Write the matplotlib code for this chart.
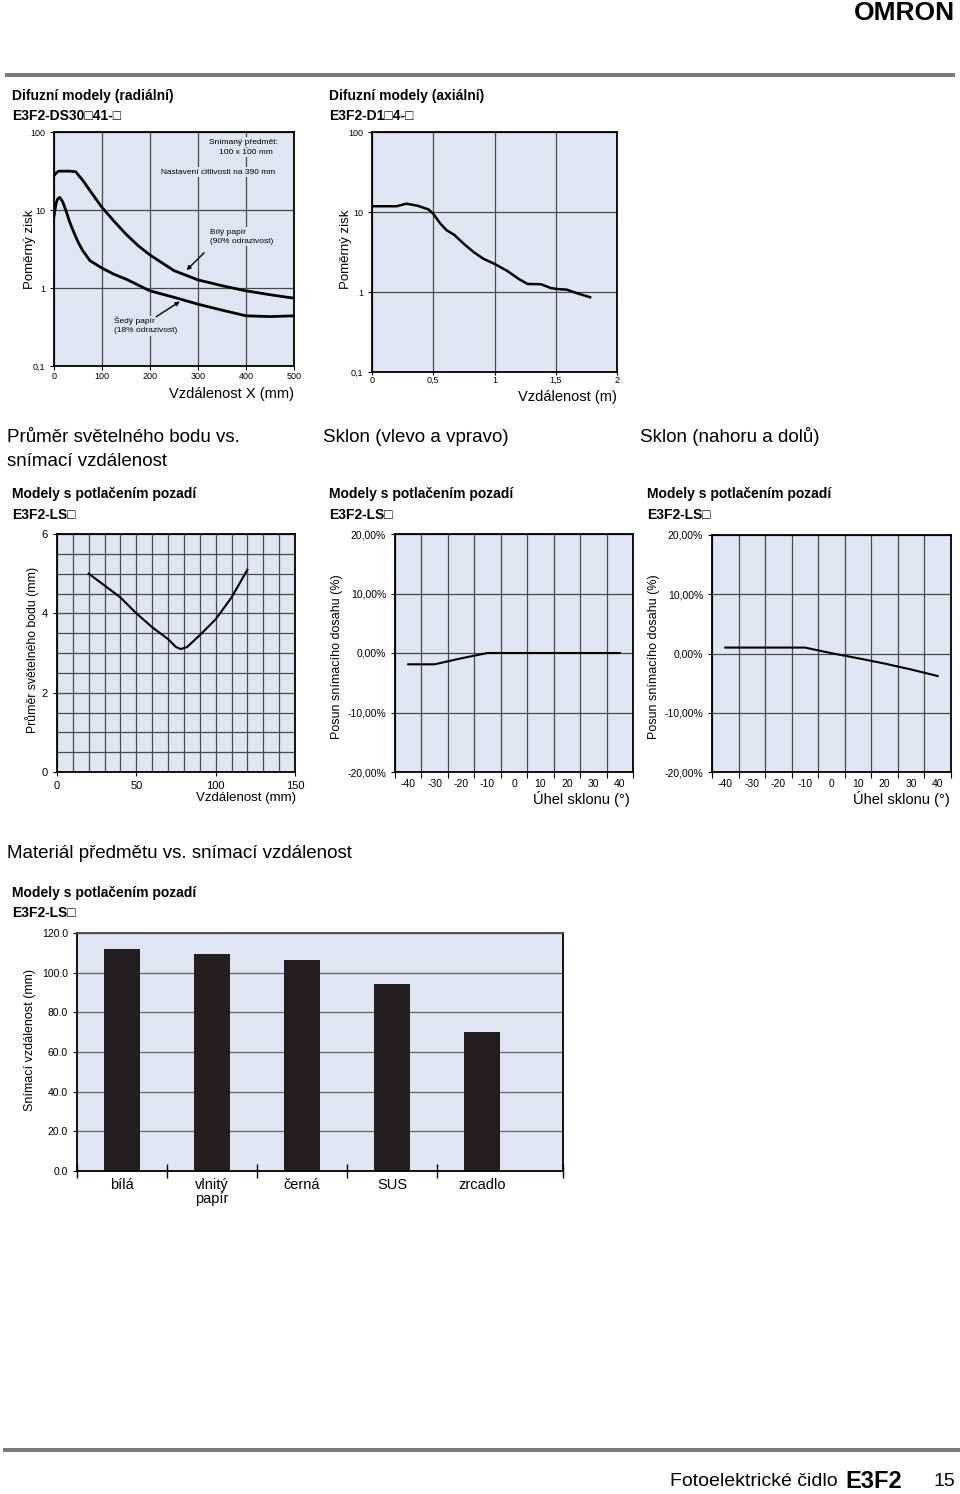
import numpy as np
import matplotlib
matplotlib.use('Agg')
import matplotlib.pyplot as plt
from matplotlib.patches import Rectangle
from matplotlib.ticker import MultipleLocator, FixedLocator

plt.rcParams['font.family'] = ['Liberation Sans', 'DejaVu Sans']
plt.rcParams['axes.unicode_minus'] = False

# --- data ---
# radial diffuse model, relative gain vs distance X (mm)
rad_x_white = [0, 5, 10, 20, 30, 45, 60, 80, 100, 125, 150, 175, 200, 250, 300, 350, 400, 450, 500]
rad_y_white = [27.6, 30, 31.5, 31.5, 31.5, 31, 24, 16, 10.8, 7.2, 4.9, 3.5, 2.65, 1.67, 1.27, 1.07, 0.92, 0.82, 0.74]
rad_x_gray = [0, 4, 8, 12, 18, 25, 32, 40, 50, 60, 75, 100, 125, 150, 200, 250, 300, 350, 400, 450, 500]
rad_y_gray = [8.3, 12.0, 14.0, 14.5, 12.8, 9.8, 7.2, 5.4, 3.9, 3.0, 2.24, 1.8, 1.5, 1.3, 0.92, 0.76, 0.62, 0.52, 0.44, 0.43, 0.44]

# axial diffuse model, relative gain vs distance (m)
ax_x = [0, 0.2, 0.28, 0.37, 0.46, 0.5, 0.56, 0.61, 0.67, 0.75, 0.83, 0.91, 1.0, 1.1, 1.2, 1.27, 1.38, 1.46, 1.51, 1.59, 1.66, 1.78]
ax_y = [11.8, 11.8, 12.7, 12.0, 10.8, 9.5, 7.1, 5.9, 5.2, 4.0, 3.15, 2.6, 2.25, 1.85, 1.45, 1.26, 1.25, 1.12, 1.09, 1.07, 0.98, 0.86]

# spot diameter vs distance
spot_x = [20, 30, 40, 50, 60, 70, 75, 78, 82, 90, 100, 110, 120]
spot_y = [5.0, 4.7, 4.4, 4.0, 3.65, 3.35, 3.15, 3.1, 3.15, 3.45, 3.85, 4.4, 5.1]

# tilt
angles = [-40, -30, -20, -10, 0, 10, 20, 30, 40]
tilt_lr = [-1.9, -1.9, -0.9, 0, 0, 0, 0, 0, 0]
tilt_ud = [1.0, 1.0, 1.0, 1.0, 0.05, -0.8, -1.7, -2.7, -3.8]

# material vs sensing distance
materials = ['bílá', 'vlnitý\npapír', 'černá', 'SUS', 'zrcadlo']
distances = [112.0, 109.4, 106.5, 94.2, 69.9]

W, H = 960, 1494
BG = '#dfe5f2'
GRID = '#4a4a4a'

fig = plt.figure(figsize=(W / 100, H / 100), dpi=100)


def px_axes(l, t, r, b):
    return fig.add_axes([l / W, 1 - b / H, (r - l) / W, (b - t) / H])


def ftext(x, y, s, **kw):
    kw.setdefault('va', 'center')
    return fig.text(x / W, 1 - y / H, s, **kw)


def style(ax, lw=1.3):
    ax.set_facecolor(BG)
    for sp in ax.spines.values():
        sp.set_linewidth(lw)
        sp.set_color('black')
        sp.set_zorder(5)
    ax.set_axisbelow(True)


def hbar(y, x0, x1, h=4, color='#7a7a7a'):
    fig.add_artist(Rectangle((x0 / W, 1 - (y + h / 2) / H), (x1 - x0) / W, h / H,
                             transform=fig.transFigure, color=color, lw=0))


# page decorations
ftext(955, 13, 'OMRON', ha='right', fontsize=19, fontweight='bold')
hbar(75, 5, 955)
hbar(1450, 3, 960)
ftext(838, 1481, 'Fotoelektrické čidlo', ha='right', fontsize=14)
ftext(845, 1481, 'E3F2', ha='left', fontsize=17, fontweight='bold')
ftext(955, 1481, '15', ha='right', fontsize=14)

# headings
ftext(12, 96, 'Difuzní modely (radiální)', fontsize=10, fontweight='bold')
ftext(12, 116, 'E3F2-DS30□41-□', fontsize=10, fontweight='bold')
ftext(329, 96, 'Difuzní modely (axiální)', fontsize=10, fontweight='bold')
ftext(329, 116, 'E3F2-D1□4-□', fontsize=10, fontweight='bold')
ftext(7, 437, 'Průměr světelného bodu vs.', fontsize=13.5)
ftext(7, 461, 'snímací vzdálenost', fontsize=13.5)
ftext(323, 437, 'Sklon (vlevo a vpravo)', fontsize=13.5)
ftext(640, 437, 'Sklon (nahoru a dolů)', fontsize=13.5)
for x0 in (12, 329, 647):
    ftext(x0, 494, 'Modely s potlačením pozadí', fontsize=10, fontweight='bold')
    ftext(x0, 515, 'E3F2-LS□', fontsize=10, fontweight='bold')
ftext(7, 853, 'Materiál předmětu vs. snímací vzdálenost', fontsize=13.5)
ftext(12, 893, 'Modely s potlačením pozadí', fontsize=10, fontweight='bold')
ftext(12, 913, 'E3F2-LS□', fontsize=10, fontweight='bold')

# --- radial chart ---
ax1 = px_axes(54, 132, 294, 366)
style(ax1)
ax1.set_yscale('log')
ax1.set_xlim(0, 500)
ax1.set_ylim(0.1, 100)
ax1.plot(rad_x_white, rad_y_white, color='black', lw=2)
ax1.plot(rad_x_gray, rad_y_gray, color='black', lw=2)
ax1.set_xticks([0, 100, 200, 300, 400, 500])
ax1.set_yticks([0.1, 1, 10, 100])
ax1.set_yticklabels(['0,1', '1', '10', '100'])
ax1.yaxis.set_minor_locator(FixedLocator([]))
ax1.grid(True, color=GRID, lw=0.9)
ax1.tick_params(labelsize=6.5, length=3, width=0.8)
ax1.tick_params(axis='x', pad=1.5)
tb = dict(boxstyle='square,pad=0.15', fc=BG, ec='none')
ax1.text(395, 74, 'Snímaný předmět:', fontsize=6, ha='center', va='center', bbox=tb)
ax1.text(400, 55, '100 x 100 mm', fontsize=6, ha='center', va='center', bbox=tb)
ax1.text(342, 30.5, 'Nastavení citlivosti na 390 mm', fontsize=6, ha='center', va='center', bbox=tb)
ax1.text(326, 4.55, 'Bílý papír\n(90% odrazivost)', fontsize=6, ha='left', va='center',
         linespacing=1.4, bbox=tb)
ax1.text(125, 0.33, 'Šedý papír\n(18% odrazivost)', fontsize=6, ha='left', va='center',
         linespacing=1.4, bbox=tb)
ax1.annotate('', xy=(272, 1.6), xytext=(317, 3.0),
             arrowprops=dict(arrowstyle='-|>', color='black', lw=1, mutation_scale=6))
ax1.annotate('', xy=(267, 0.7), xytext=(208, 0.41),
             arrowprops=dict(arrowstyle='-|>', color='black', lw=1, mutation_scale=6))
ftext(30, 249, 'Poměrný zisk', rotation=90, ha='center', fontsize=9.5)
ftext(294, 394, 'Vzdálenost X (mm)', ha='right', fontsize=10.5)

# --- axial chart ---
ax2 = px_axes(372, 132, 617, 372)
style(ax2)
ax2.set_yscale('log')
ax2.set_xlim(0, 2)
ax2.set_ylim(0.1, 100)
ax2.plot(ax_x, ax_y, color='black', lw=1.8)
ax2.set_xticks([0, 0.5, 1, 1.5, 2])
ax2.set_xticklabels(['0', '0,5', '1', '1,5', '2'])
ax2.set_yticks([0.1, 1, 10, 100])
ax2.set_yticklabels(['0,1', '1', '10', '100'])
ax2.yaxis.set_minor_locator(FixedLocator([]))
ax2.grid(True, color=GRID, lw=0.9)
ax2.tick_params(labelsize=6.5, length=3, width=0.8)
ax2.tick_params(axis='x', length=2, pad=1)
ftext(346, 249, 'Poměrný zisk', rotation=90, ha='center', fontsize=9.5)
ftext(617, 397, 'Vzdálenost (m)', ha='right', fontsize=10.5)

# --- spot diameter chart ---
ax3 = px_axes(57, 534, 295, 772)
style(ax3)
ax3.set_xlim(0, 150)
ax3.set_ylim(0, 6)
ax3.plot(spot_x, spot_y, color='black', lw=1.5)
ax3.set_xticks([0, 50, 100, 150])
ax3.set_yticks([0, 2, 4, 6])
ax3.xaxis.set_minor_locator(MultipleLocator(10))
ax3.yaxis.set_minor_locator(MultipleLocator(0.5))
ax3.grid(True, which='both', color=GRID, lw=0.9)
ax3.tick_params(which='major', labelsize=8, length=3, width=0.8)
ax3.tick_params(which='minor', length=0)
ftext(32, 650, 'Průměr světelného bodu (mm)', rotation=90, ha='center', fontsize=8.8)
ftext(296, 798, 'Vzdálenost (mm)', ha='right', fontsize=9.5)


# --- tilt charts ---
def tilt_chart(box, vals, ylab_x, xlab_r):
    ax = px_axes(*box)
    style(ax)
    ax.set_xlim(-45, 45)
    ax.set_ylim(-20, 20)
    ax.plot(angles, vals, color='black', lw=1.5)
    ax.set_xticks(angles)
    ax.xaxis.set_minor_locator(FixedLocator(np.arange(-45, 46, 10)))
    ax.set_yticks([-20, -10, 0, 10, 20])
    ax.set_yticklabels(['-20,00%', '-10,00%', '0,00%', '10,00%', '20,00%'])
    ax.grid(True, which='minor', axis='x', color=GRID, lw=0.9)
    ax.grid(True, which='major', axis='y', color=GRID, lw=0.9)
    ax.tick_params(axis='x', which='major', length=0, labelsize=7.5, pad=5)
    ax.tick_params(axis='x', which='minor', length=4, width=0.8)
    ax.tick_params(axis='y', labelsize=7.5, length=3, width=0.8)
    ftext(ylab_x, 657, 'Posun snímacího dosahu (%)', rotation=90, ha='center', fontsize=9)
    ftext(xlab_r, 799, 'Úhel sklonu (°)', ha='right', fontsize=10.5)
    return ax


tilt_chart((395, 534, 633, 772), tilt_lr, 337, 630)
tilt_chart((712, 535, 951, 772), tilt_ud, 654, 950)

# --- material bar chart ---
ax6 = px_axes(77, 933, 563, 1171)
style(ax6)
ax6.spines['top'].set_color(GRID)
ax6.set_xlim(-0.5, 4.9)
ax6.set_ylim(0, 120)
xpos = np.arange(len(materials))
ax6.bar(xpos, distances, width=0.39, color='#231f20', zorder=3)
ax6.set_yticks(np.arange(0, 121, 20))
ax6.set_yticklabels(['%.1f' % v for v in np.arange(0, 121, 20)])
ax6.yaxis.grid(True, color='#6e6e6e', lw=1)
ax6.set_xticks(xpos)
ax6.set_xticklabels(materials, fontsize=10.5, linespacing=1.0)
ax6.xaxis.set_minor_locator(FixedLocator([-0.5, 0.5, 1.5, 2.5, 3.5, 4.9]))
ax6.tick_params(axis='x', which='major', length=0, pad=5)
ax6.tick_params(axis='x', which='minor', direction='inout', length=10, width=1)
ax6.tick_params(axis='y', labelsize=7.5, length=3, width=0.8)
ftext(30, 1040, 'Snímací vzdálenost (mm)', rotation=90, ha='center', fontsize=9)

fig.savefig('out.png', dpi=100)
